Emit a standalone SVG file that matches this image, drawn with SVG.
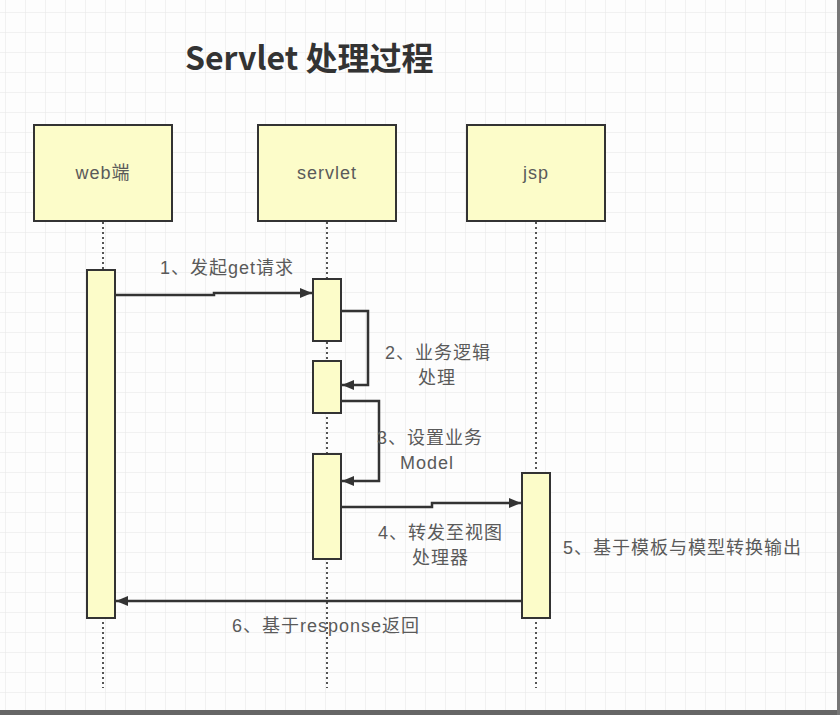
<svg xmlns="http://www.w3.org/2000/svg" width="840" height="715" viewBox="0 0 840 715">
<defs>
<pattern id="grid" x="5" y="12" width="20" height="20" patternUnits="userSpaceOnUse">
<path d="M0 0H20M0 0V20" fill="none" stroke="#e6e6e6" stroke-width="1"/>
</pattern>
<marker id="ah" viewBox="0 0 12 10" refX="12" refY="5" markerWidth="12" markerHeight="10" markerUnits="userSpaceOnUse" orient="auto">
<path d="M0 0L12 5L0 10Z" fill="#333"/>
</marker>
</defs>
<style>
.box{fill:#fcfcc9;stroke:#333;stroke-width:2}
.act{fill:#fcfcc9;stroke:#333;stroke-width:2}
.life{stroke:#555;stroke-width:2;stroke-dasharray:2 3;fill:none}
.msg{stroke:#333;stroke-width:2.5;fill:none;marker-end:url(#ah)}
.nl{font-family:"Liberation Sans","Noto Sans CJK SC",sans-serif;font-size:18px;letter-spacing:1px;fill:#5a5a5a;text-anchor:middle}
.lb{font-family:"Liberation Sans","Noto Sans CJK SC",sans-serif;font-size:18px;letter-spacing:1px;fill:#5a5a5a}
</style>
<rect width="840" height="715" fill="#fdfdfd"/>
<rect width="840" height="715" fill="url(#grid)"/>
<rect x="0" y="710" width="840" height="5" fill="#666"/>
<rect x="837" y="0" width="3" height="715" fill="#777"/>
<text x="185" y="70" font-family="'Noto Sans CJK SC','Liberation Sans',sans-serif" font-size="32" font-weight="bold" fill="#333">Servlet 处理过程</text>
<g id="web">
<rect class="box" x="34" y="125" width="138" height="96"/>
<text class="nl" x="103" y="179">web端</text>
</g>
<g id="servlet">
<rect class="box" x="258" y="125" width="138" height="96"/>
<text class="nl" x="327" y="179">servlet</text>
</g>
<g id="jsp">
<rect class="box" x="467" y="125" width="138" height="96"/>
<text class="nl" x="536" y="179">jsp</text>
</g>
<g id="lifelines">
<line class="life" x1="103" y1="222" x2="103" y2="688"/>
<line class="life" x1="327" y1="222" x2="327" y2="688"/>
<line class="life" x1="536" y1="222" x2="536" y2="688"/>
</g>
<g id="activations">
<rect class="act" x="87" y="270" width="28" height="348"/>
<rect class="act" x="313" y="279" width="28" height="62"/>
<rect class="act" x="313" y="361" width="28" height="52"/>
<rect class="act" x="313" y="454" width="28" height="105"/>
<rect class="act" x="522" y="473" width="28" height="145"/>
</g>
<g id="connectors">
<path class="msg" d="M115 295H214V293H312"/>
<path class="msg" d="M341 311H368V385H342"/>
<path class="msg" d="M341 401H379V481H342"/>
<path class="msg" d="M341 507H432V503H521"/>
<path class="msg" d="M522 601H116"/>
</g>
<g id="labels">
<text class="lb" x="160" y="274">1、发起get请求</text>
<text class="lb" x="385" y="359">2、业务逻辑</text>
<text class="lb" x="418" y="384">处理</text>
<text class="lb" x="377" y="444">3、设置业务</text>
<text class="lb" x="400" y="469">Model</text>
<text class="lb" x="378" y="539">4、转发至视图</text>
<text class="lb" x="412" y="564">处理器</text>
<text class="lb" x="563" y="554">5、基于模板与模型转换输出</text>
<text class="lb" x="232" y="632">6、基于response返回</text>
</g>
</svg>
